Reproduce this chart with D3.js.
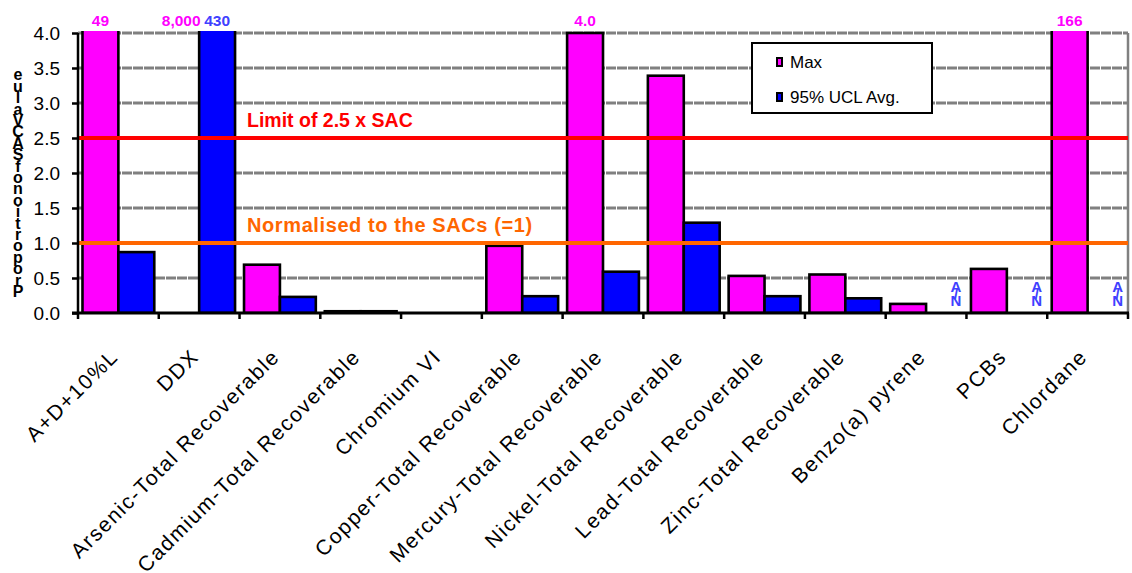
<!DOCTYPE html>
<html>
<head>
<meta charset="utf-8">
<script src="https://cdn.jsdelivr.net/npm/d3@7"></script>
<style>
  html, body { margin: 0; padding: 0; background: #fff; }
  svg { display: block; font-family: Arial, "Liberation Sans", sans-serif; }
</style>
</head>
<body>
<svg id="chart" width="1132" height="573"></svg>
<script>
// Contaminant groups on the x axis
const categories = [
  "A+D+10%L", "DDX", "Arsenic-Total Recoverable", "Cadmium-Total Recoverable",
  "Chromium VI", "Copper-Total Recoverable", "Mercury-Total Recoverable",
  "Nickel-Total Recoverable", "Lead-Total Recoverable", "Zinc-Total Recoverable",
  "Benzo(a) pyrene", "PCBs", "Chlordane"
];

// Proportion of SAC value: maximum concentration
const maxValues = [49, null, 0.69, 0.025, null, 0.96, 4.0, 3.39, 0.53, 0.55, 0.13, 0.63, 166];
// Proportion of SAC value: 95% UCL of the average
const uclValues = [0.87, 430, 0.23, 0.025, null, 0.24, 0.59, 1.29, 0.24, 0.21, null, null, null];

// Value call-outs printed above the plot for off-scale results
const maxCallouts = ["49", "8,000", null, null, null, null, "4.0", null, null, null, null, null, "166"];
const uclCallouts = [null, "430", null, null, null, null, null, null, null, null, null, null, null];
// Groups where no average was available
const uclNotAvailable = [false, false, false, false, false, false, false, false, false, false, true, true, true];

const yTicks = [0, 0.5, 1, 1.5, 2, 2.5, 3, 3.5, 4];
const referenceLines = [
  { value: 2.5, label: "Limit of 2.5 x SAC", color: "#ff0000", size: 19.5, spacing: 0 },
  { value: 1.0, label: "Normalised to the SACs (=1)", color: "#ff6600", size: 20, spacing: 0.6 }
];
const seriesNames = ["Max", "95% UCL Avg."];
const seriesColors = ["#ff00ff", "#0000ff"];
const yTitle = "Proportion of SAC Value";

const svg = d3.select("#chart");
const plot = { left: 78, right: 1128, top: 33, bottom: 313 };

const x = d3.scaleBand().domain(categories).range([plot.left, plot.right]).paddingInner(0).paddingOuter(0);
const inner = d3.scaleBand().domain([0, 1]).range([0, x.bandwidth()]).paddingInner(0).paddingOuter(0.125);
const y = d3.scaleLinear().domain([0, 4]).range([plot.bottom, plot.top]);

// Gridlines
svg.append("g").selectAll("line").data(yTicks.filter(d => d > 0)).join("line")
  .attr("x1", plot.left).attr("x2", plot.right)
  .attr("y1", d => y(d)).attr("y2", d => y(d))
  .attr("stroke", "#808080").attr("stroke-width", 3).attr("stroke-dasharray", "10,1");

// Right border of the plot area
svg.append("line").attr("x1", plot.right).attr("x2", plot.right)
  .attr("y1", plot.top).attr("y2", plot.bottom)
  .attr("stroke", "#808080").attr("stroke-width", 2.5);

// Clip region for off-scale bars
svg.append("clipPath").attr("id", "plotClip").append("rect")
  .attr("x", plot.left).attr("y", plot.top - 2)
  .attr("width", plot.right - plot.left).attr("height", plot.bottom - plot.top + 2);

const series = [maxValues, uclValues];
const bars = svg.append("g").attr("clip-path", "url(#plotClip)");
series.forEach((vals, si) => {
  bars.append("g").selectAll("rect")
    .data(categories.map((c, i) => ({ c, v: vals[i] })).filter(d => d.v != null))
    .join("rect")
    .attr("x", d => x(d.c) + inner(si))
    .attr("width", inner.bandwidth())
    .attr("y", d => y(d.v))
    .attr("height", d => y(0) - y(d.v))
    .attr("fill", seriesColors[si])
    .attr("stroke", "#000").attr("stroke-width", 2.6);
});

// Reference lines and their labels
referenceLines.forEach(r => {
  svg.append("line").attr("x1", plot.left).attr("x2", plot.right)
    .attr("y1", y(r.value)).attr("y2", y(r.value))
    .attr("stroke", r.color).attr("stroke-width", 4);
  svg.append("text").attr("x", 247).attr("y", y(r.value) - 11)
    .attr("fill", r.color).attr("font-weight", "bold").attr("font-size", r.size)
    .attr("letter-spacing", r.spacing)
    .text(r.label);
});

// Axes
const yAxis = svg.append("g").attr("transform", `translate(${plot.left},0)`)
  .call(d3.axisLeft(y).tickValues(yTicks).tickFormat(d3.format(".1f")).tickSize(6).tickPadding(12));
yAxis.select(".domain").attr("stroke", "#000").attr("stroke-width", 2.5).attr("d", `M0,${plot.top}V${plot.bottom}`);
yAxis.selectAll(".tick line").attr("stroke", "#000").attr("stroke-width", 2.5);
yAxis.selectAll(".tick text").attr("font-size", 19).attr("fill", "#000")
  .attr("font-family", "Arial, 'Liberation Sans', sans-serif");

const boundaries = categories.map(c => x(c)).concat([plot.right]);
svg.append("line").attr("x1", plot.left - 6).attr("x2", plot.right + 1)
  .attr("y1", plot.bottom).attr("y2", plot.bottom)
  .attr("stroke", "#000").attr("stroke-width", 3);
svg.append("g").selectAll("line").data(boundaries).join("line")
  .attr("x1", d => d).attr("x2", d => d)
  .attr("y1", plot.bottom).attr("y2", plot.bottom + 6)
  .attr("stroke", "#000").attr("stroke-width", 2.5);

// Category labels, slanted
svg.append("g").selectAll("text").data(categories).join("text")
  .attr("transform", d => `translate(${x(d) + x.bandwidth() / 2 + 1},${plot.bottom + 45}) rotate(-45)`)
  .attr("text-anchor", "end")
  .attr("font-size", 21).attr("letter-spacing", 1.6).attr("fill", "#000")
  .text(d => d);

// Call-outs above the plot
const calloutColors = ["#ff00ff", "#4040ff"];
[maxCallouts, uclCallouts].forEach((labels, si) => {
  svg.append("g").selectAll("text")
    .data(categories.map((c, i) => ({ c, t: labels[i] })).filter(d => d.t))
    .join("text")
    .attr("x", d => x(d.c) + inner(si) + inner.bandwidth() / 2)
    .attr("y", 26)
    .attr("text-anchor", "middle")
    .attr("font-weight", "bold").attr("font-size", 15.5)
    .attr("fill", calloutColors[si])
    .text(d => d.t);
});

// Stacked "N/A" markers where no average was available
categories.forEach((c, i) => {
  if (!uclNotAvailable[i]) return;
  const cx = x(c) + inner(1) + inner.bandwidth() / 2 + 12;
  const t = svg.append("text").attr("text-anchor", "middle")
    .attr("font-weight", "bold").attr("font-size", 15).attr("fill", "#4040ff");
  Array.from("N/A").forEach((ch, k) => {
    t.append("tspan").attr("x", cx).attr("y", 306 - k * 7).text(ch);
  });
});

// Y axis title, letters stacked from the bottom up
const title = svg.append("text").attr("text-anchor", "middle")
  .attr("font-weight", "bold").attr("font-size", 16).attr("fill", "#000");
Array.from(yTitle.replace(/ /g, "")).forEach((ch, k) => {
  title.append("tspan").attr("x", 18).attr("y", 297 - k * 11.4).text(ch);
});

// Legend
const legend = svg.append("g").attr("transform", "translate(752,43)");
legend.append("rect").attr("width", 180).attr("height", 70)
  .attr("fill", "#fff").attr("stroke", "#000").attr("stroke-width", 2);
seriesNames.forEach((name, i) => {
  const gy = 19 + i * 35;
  legend.append("rect").attr("x", 25).attr("y", gy - 4).attr("width", 5).attr("height", 8)
    .attr("fill", seriesColors[i]).attr("stroke", "#000").attr("stroke-width", 2);
  legend.append("text").attr("x", 38).attr("y", gy + 6)
    .attr("font-size", 17).attr("fill", "#000").text(name);
});
</script>
</body>
</html>
